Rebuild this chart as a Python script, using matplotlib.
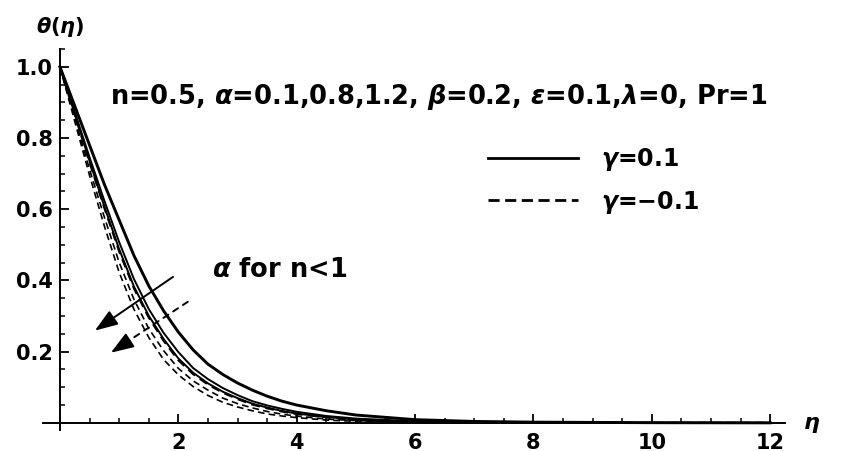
import matplotlib
matplotlib.use("Agg")
import matplotlib.pyplot as plt
from matplotlib.ticker import MultipleLocator, FixedLocator
from matplotlib.lines import Line2D

plt.rcParams['font.family'] = ['DejaVu Sans']
plt.rcParams['font.weight'] = 'bold'
plt.rcParams['mathtext.fontset'] = 'custom'
plt.rcParams['mathtext.rm'] = 'DejaVu Sans:bold'
plt.rcParams['mathtext.it'] = 'DejaVu Sans:italic:bold'
plt.rcParams['mathtext.bf'] = 'DejaVu Sans:bold'

# eta grid
eta = [0, 0.25, 0.5, 0.75, 1.0, 1.25, 1.5, 1.75, 2.0, 2.25, 2.5, 2.75, 3.0, 3.25, 3.5, 3.75,
       4.0, 4.5, 5.0, 6.0, 7.0, 8.0, 10.0, 12.0]

# gamma = 0.1 (solid), alpha = 0.1, 0.8, 1.2
theta_g01_a01 = [1.0, 0.890, 0.780, 0.670, 0.570, 0.470, 0.385, 0.315, 0.255, 0.205, 0.165, 0.136, 0.112, 0.092, 0.075, 0.061,
                 0.050, 0.034, 0.022, 0.009, 0.004, 0.002, 0.0005, 0.0]
theta_g01_a08 = [1.0, 0.873, 0.746, 0.624, 0.508, 0.404, 0.320, 0.253, 0.199, 0.154, 0.123, 0.098, 0.078, 0.061, 0.049, 0.0394,
                 0.031, 0.0194, 0.012, 0.0045, 0.002, 0.0009, 0.0001, 0.0]
theta_g01_a12 = [1.0, 0.868, 0.735, 0.608, 0.488, 0.383, 0.301, 0.236, 0.181, 0.141, 0.111, 0.0876, 0.0695, 0.054, 0.043, 0.0335,
                 0.026, 0.0165, 0.009, 0.0035, 0.0015, 0.0007, 0.0, 0.0]
# gamma = -0.1 (dashed)
theta_gm01_a01 = [1.0, 0.866, 0.732, 0.604, 0.482, 0.378, 0.296, 0.231, 0.176, 0.137, 0.108, 0.085, 0.067, 0.0515, 0.041, 0.032,
                  0.025, 0.0156, 0.0085, 0.0033, 0.0014, 0.0006, 0.0, 0.0]
theta_gm01_a08 = [1.0, 0.856, 0.712, 0.578, 0.451, 0.347, 0.265, 0.203, 0.153, 0.118, 0.092, 0.0697, 0.054, 0.042, 0.032, 0.0244,
                  0.019, 0.0106, 0.0063, 0.0023, 0.0009, 0.0004, 0.0, 0.0]
theta_gm01_a12 = [1.0, 0.847, 0.695, 0.553, 0.423, 0.319, 0.240, 0.178, 0.135, 0.102, 0.077, 0.058, 0.0446, 0.034, 0.025, 0.0193,
                  0.0147, 0.0078, 0.0043, 0.0017, 0.0006, 0.0002, 0.0, 0.0]

x_ticks = [2, 4, 6, 8, 10, 12]
y_ticks = [0.2, 0.4, 0.6, 0.8, 1.0]
y_ticklabels = ["0.2", "0.4", "0.6", "0.8", "1.0"]

fig = plt.figure(figsize=(8.42, 4.51), dpi=100)
ax = fig.add_axes([0.0508, 0.0466, 0.8815, 0.8448])

dash = (0, (4, 2.5))
ax.plot(eta, theta_g01_a01, color='black', lw=2.1, ls='-')
ax.plot(eta, theta_g01_a08, color='black', lw=1.4, ls='-')
ax.plot(eta, theta_g01_a12, color='black', lw=1.4, ls='-')
ax.plot(eta, theta_gm01_a01, color='black', lw=1.6, ls=dash)
ax.plot(eta, theta_gm01_a08, color='black', lw=1.2, ls=dash)
ax.plot(eta, theta_gm01_a12, color='black', lw=1.2, ls=dash)

ax.set_xlim(-0.29, 12.25)
ax.set_ylim(-0.02, 1.05)

for s in ['top', 'right']:
    ax.spines[s].set_visible(False)
ax.spines['left'].set_position(('data', 0))
ax.spines['bottom'].set_position(('data', 0))
ax.spines['left'].set_linewidth(1.4)
ax.spines['bottom'].set_linewidth(1.4)

ax.xaxis.set_major_locator(FixedLocator(x_ticks))
ax.yaxis.set_major_locator(FixedLocator(y_ticks))
ax.set_yticklabels(y_ticklabels)
ax.xaxis.set_minor_locator(MultipleLocator(0.5))
ax.yaxis.set_minor_locator(MultipleLocator(0.05))
ax.tick_params(which='major', direction='in', length=6.5, width=1.3, labelsize=15)
ax.tick_params(which='minor', direction='in', length=3.4, width=1.1)
ax.tick_params(axis='y', which='major', pad=5)
ax.tick_params(axis='x', which='major', pad=7)
for lab in ax.get_xticklabels() + ax.get_yticklabels():
    lab.set_fontweight('bold')

# axis labels
ax.text(0, 1.112, r'$\theta(\eta)$', fontsize=15, ha='center', va='center', clip_on=False)
ax.text(12.55, -0.006, r'$\eta$', fontsize=16, ha='left', va='center', clip_on=False)

# parameter text
ax.text(0.845, 0.916, r'n=0.5, $\alpha$=0.1,0.8,1.2, $\beta$=0.2, $\varepsilon$=0.1,$\lambda$=0, Pr=1',
        fontsize=18.5, fontweight='bold', ha='left', va='center')

# legend
leg_handles = [Line2D([], [], color='black', lw=2.0, ls='-'),
               Line2D([], [], color='black', lw=2.0, ls=(0, (4, 2)))]
leg = ax.legend(leg_handles, [r'$\gamma$=0.1', r'$\gamma$=$-$0.1'], loc='center left',
                bbox_to_anchor=(0.600, 0.6535), frameon=False, handlelength=3.8,
                handletextpad=1.0, labelspacing=0.65, borderpad=0, borderaxespad=0,
                prop={'size': 17, 'weight': 'bold'})

# annotation
ax.text(2.57, 0.43, r'$\alpha$ for n<1', fontsize=18.5, fontweight='bold', ha='left', va='center')
head = '-|>,head_length=1.4,head_width=0.5'
ax.annotate('', xy=(0.59, 0.259), xytext=(1.91, 0.41),
            arrowprops=dict(arrowstyle=head, color='black', lw=1.4, shrinkA=0, shrinkB=0))
ax.annotate('', xy=(1.05, 0.218), xytext=(2.16, 0.34),
            arrowprops=dict(arrowstyle='-', color='black', lw=1.4, ls=(0, (3, 3)), shrinkA=0, shrinkB=0))
ax.annotate('', xy=(0.86, 0.197), xytext=(1.1, 0.223),
            arrowprops=dict(arrowstyle=head, color='black', lw=1.4, shrinkA=0, shrinkB=0))

fig.savefig('out.png', dpi=100)
